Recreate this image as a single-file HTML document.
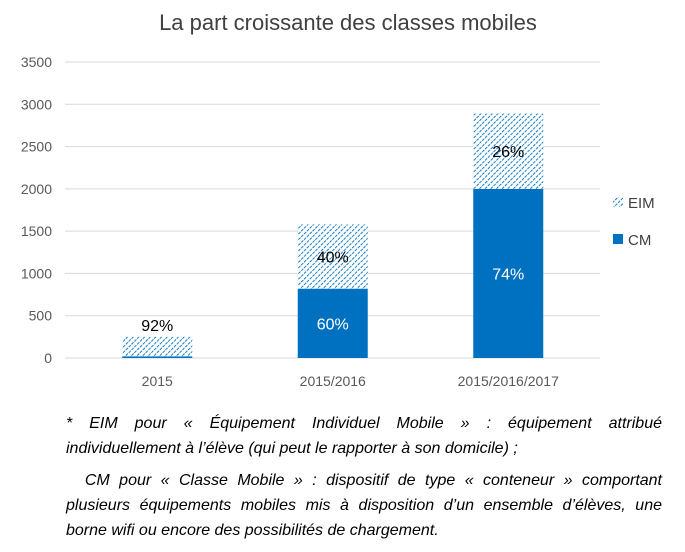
<!DOCTYPE html>
<html><head><meta charset="utf-8"><style>
body{margin:0;background:#fff;width:685px;height:552px;overflow:hidden;font-family:"Liberation Sans",sans-serif}
.note{position:absolute;left:66px;width:596px;font-style:italic;font-size:16px;color:#000;white-space:nowrap}
.j{text-align:justify;text-align-last:justify}
</style></head><body>
<svg id="chart" width="685" height="400" style="position:absolute;left:0;top:0">
<defs>
<pattern id="hatch" width="4" height="4" patternUnits="userSpaceOnUse" patternTransform="rotate(45)">
<rect width="4" height="4" fill="#fff"/>
<line x1="0" y1="0" x2="0" y2="4" stroke="#0070c0" stroke-width="1.8" stroke-dasharray="2.5 1"/>
</pattern>
</defs>
<text x="348" y="30" text-anchor="middle" font-size="22" fill="#404040">La part croissante des classes mobiles</text>
<g id="grid"></g><g id="bars"></g>
<g>
<rect x="613" y="197" width="10" height="10" fill="url(#hatch)"/>
<text x="628" y="208" font-size="15" fill="#404040">EIM</text>
<rect x="613" y="234" width="10" height="10" fill="#0070c0"/>
<text x="628" y="245" font-size="15" fill="#404040">CM</text>
</g>
</svg>
<div class="note j" style="top:415px">* EIM pour « Équipement Individuel Mobile » : équipement attribué</div>
<div class="note" style="top:440px">individuellement à l’élève (qui peut le rapporter à son domicile) ;</div>
<div class="note j" style="top:472px">&nbsp;&nbsp;CM pour « Classe Mobile » : dispositif de type « conteneur » comportant</div>
<div class="note j" style="top:497px">plusieurs équipements mobiles mis à disposition d’un ensemble d’élèves, une</div>
<div class="note" style="top:522px">borne wifi ou encore des possibilités de chargement.</div>
<script>
const categories=["2015","2015/2016","2015/2016/2017"];
const cmValues=[20,820,2000];
const eimValues=[230,760,890];
const cmLabels=["","60%","74%"];
const eimLabels=["92%","40%","26%"];
const yTicks=[0,500,1000,1500,2000,2500,3000,3500];
const NS="http://www.w3.org/2000/svg";
const x0=65,x1=600,yBase=358,yTop=62,yMax=3500;
const y=v=>yBase-(v/yMax)*(yBase-yTop);
const bandStart=69.5,band=175.5;
const xc=i=>bandStart+band*(i+0.5);
function mk(tag,attrs,parent,txt){const e=document.createElementNS(NS,tag);for(const k in attrs)e.setAttribute(k,attrs[k]);if(txt!==undefined)e.textContent=txt;parent.appendChild(e);return e;}
const grid=document.getElementById('grid'),bars=document.getElementById('bars');
yTicks.forEach(t=>{
 const l=mk('line',{x1:x0,x2:x1,y1:y(t),y2:y(t),stroke:'#d9d9d9','stroke-width':1},grid);
 
 
 const tx=mk('text',{x:52,y:y(t)+5,'text-anchor':'end','font-size':14,fill:'#595959'},grid,t);
 
 
});
const bw=70;
categories.forEach((c,i)=>{
 const cx=xc(i);
 const r1=mk('rect',{x:cx-bw/2,y:y(cmValues[i]),width:bw,height:yBase-y(cmValues[i]),fill:'#0070c0'},bars);
 
 
 const tot=cmValues[i]+eimValues[i];
 const r2=mk('rect',{x:cx-bw/2,y:y(tot),width:bw,height:y(cmValues[i])-y(tot),fill:'url(#hatch)'},bars);
 
 
 if(cmLabels[i]){const t=mk('text',{x:cx,y:(y(cmValues[i])+yBase)/2+6,'text-anchor':'middle','font-size':16,fill:'#fff'},bars,cmLabels[i]);
 
 }
 const ly=i===0?y(tot)-6:(y(tot)+y(cmValues[i]))/2+6;
 const t2=mk('text',{x:cx,y:ly,'text-anchor':'middle','font-size':16,fill:'#000'},bars,eimLabels[i]);
 
 
 const xl=mk('text',{x:cx,y:386,'text-anchor':'middle','font-size':14,fill:'#595959'},bars,c);
 
 
});
</script>
</body></html>
